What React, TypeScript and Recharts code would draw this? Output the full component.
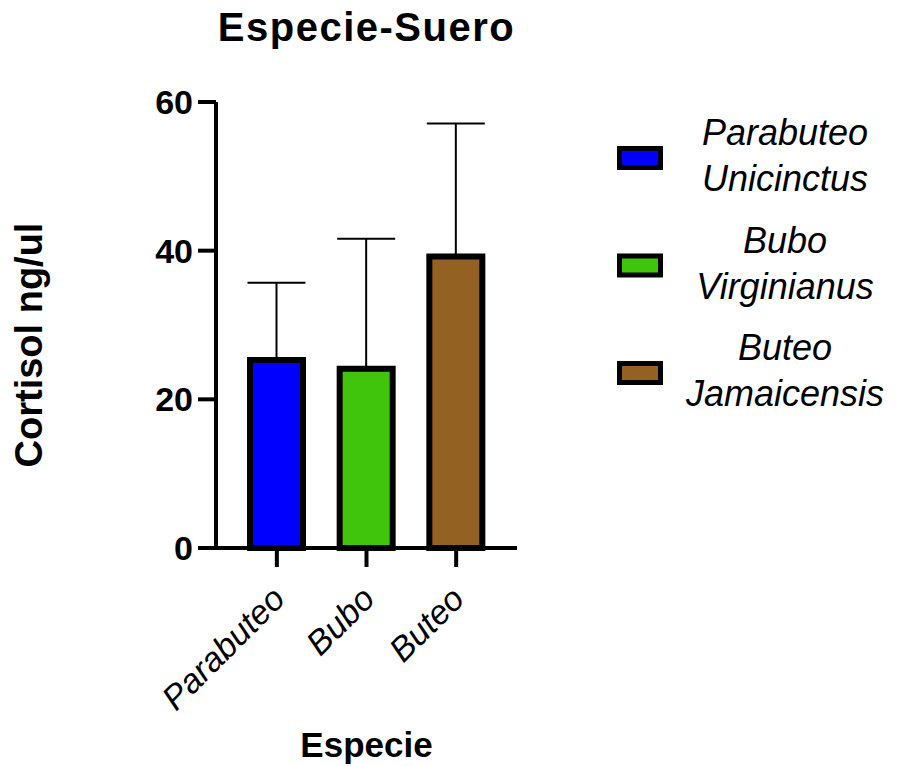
import { BarChart, Bar, XAxis, YAxis, Cell, ErrorBar, Legend } from "recharts";

const especies = ["Parabuteo", "Bubo", "Buteo"];
const nombresLegenda = [
  ["Parabuteo", "Unicinctus"],
  ["Bubo", "Virginianus"],
  ["Buteo", "Jamaicensis"],
];
const medias = [25.3, 24.1, 39.2];
const desvios = [10.4, 17.5, 17.9];
const colores = ["#0000ff", "#41c50c", "#936223"];
const yTicks = [0, 20, 40, 60];

const FONT = "'Liberation Sans', Arial, sans-serif";

const data = especies.map((name, i) => ({
  name,
  cortisol: medias[i],
  err: [0, desvios[i]],
}));

function XTick({ x, y, payload }: any) {
  return (
    <text
      transform={`translate(${x + 10},${y + 32}) rotate(-45)`}
      textAnchor="end"
      fontFamily={FONT}
      fontStyle="italic"
      fontSize={34}
      fill="#000"
    >
      {payload.value}
    </text>
  );
}

function Leyenda() {
  return (
    <svg
      width={905}
      height={766}
      style={{ position: "absolute", left: 0, top: 0, overflow: "visible", pointerEvents: "none" }}
    >
      {nombresLegenda.map((lines, i) => {
        const base = 145 + i * 107.5;
        return (
          <g key={i}>
            <rect
              x={619.5}
              y={base + 13 - 9.5}
              width={41}
              height={19}
              fill={colores[i]}
              stroke="#000"
              strokeWidth={5}
            />
            {lines.map((t, j) => (
              <text
                key={j}
                x={785}
                y={base + j * 46}
                textAnchor="middle"
                fontFamily={FONT}
                fontStyle="italic"
                fontSize={36}
                fill="#000"
              >
                {t}
              </text>
            ))}
          </g>
        );
      })}
    </svg>
  );
}

export default function App() {
  return (
    <div style={{ position: "absolute", left: 0, top: 0, width: 905, height: 766, background: "#fff" }}>
      <BarChart
        width={905}
        height={766}
        data={data}
        margin={{ top: 102, right: 388, bottom: 0, left: 0 }}
      >
        <text
          x={366.5}
          y={41}
          textAnchor="middle"
          fontFamily={FONT}
          fontWeight="bold"
          fontSize={40}
          letterSpacing={1.5}
          fill="#000"
        >
          Especie-Suero
        </text>
        <XAxis
          dataKey="name"
          padding={{ left: 16, right: 16 }}
          stroke="#000"
          strokeWidth={4}
          tickSize={19}
          tickLine={{ stroke: "#000", strokeWidth: 4 }}
          tick={<XTick />}
          interval={0}
          height={218}
          label={({ viewBox }: any) => (
            <text
              x={viewBox.x + viewBox.width / 2}
              y={757}
              textAnchor="middle"
              fontFamily={FONT}
              fontWeight="bold"
              fontSize={35}
              fill="#000"
            >
              Especie
            </text>
          )}
        />
        <YAxis
          domain={[0, 60]}
          ticks={yTicks}
          width={216}
          stroke="#000"
          strokeWidth={4}
          tickSize={18}
          tickMargin={5}
          tickLine={{ stroke: "#000", strokeWidth: 4 }}
          tick={{ fontFamily: FONT, fontWeight: "bold", fontSize: 34, fill: "#000" }}
          label={({ viewBox }: any) => {
            const cy = viewBox.y + viewBox.height / 2 + 20;
            return (
              <text
                transform={`translate(42,${cy}) rotate(-90)`}
                textAnchor="middle"
                fontFamily={FONT}
                fontWeight="bold"
                fontSize={38}
                fill="#000"
              >
                Cortisol ng/ul
              </text>
            );
          }}
        />
        <Legend
          content={() => <Leyenda />}
          wrapperStyle={{ left: 0, top: 0, width: 0, height: 0, overflow: "visible" }}
        />
        <Bar dataKey="cortisol" barSize={53} stroke="#000" strokeWidth={6} isAnimationActive={false}>
          {data.map((d, i) => (
            <Cell key={d.name} fill={colores[i]} />
          ))}
          <ErrorBar dataKey="err" width={29} strokeWidth={2} stroke="#000" direction="y" />
        </Bar>
      </BarChart>
    </div>
  );
}
